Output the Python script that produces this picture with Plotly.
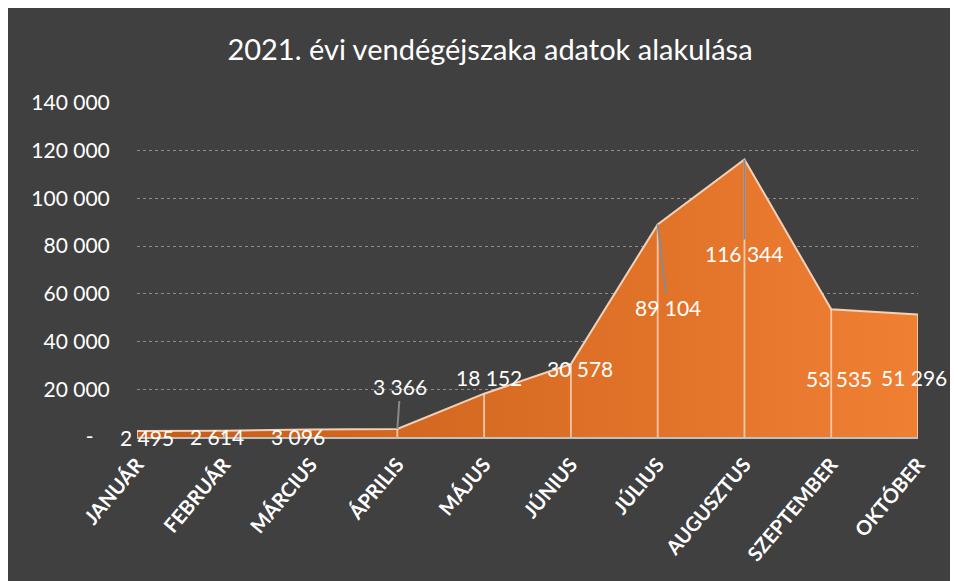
import plotly.graph_objects as go

months = ["JANUÁR", "FEBRUÁR", "MÁRCIUS", "ÁPRILIS", "MÁJUS", "JÚNIUS",
          "JÚLIUS", "AUGUSZTUS", "SZEPTEMBER", "OKTÓBER"]
values = [2495, 2614, 3096, 3366, 18152, 30578, 89104, 116344, 53535, 51296]
y_ticks = [0, 20000, 40000, 60000, 80000, 100000, 120000, 140000]

def fmt(v):
    return f"{v:,}".replace(",", " ")

y_ticktext = ["-\u00a0\u00a0\u00a0" if v == 0 else fmt(v) for v in y_ticks]

# label placement (pixel offsets from the data point); leader = draw arrow
label_pos = [
    dict(dx=10, dy=6, leader=False),
    dict(dx=-7, dy=6, leader=False),
    dict(dx=-13, dy=7, leader=False),
    dict(dx=3, dy=-42, leader=True),
    dict(dx=5, dy=-16, leader=False),
    dict(dx=9, dy=4, leader=False),
    dict(dx=10, dy=83, leader=True),
    dict(dx=0, dy=94, leader=True),
    dict(dx=8, dy=69, leader=False),
    dict(dx=-4, dy=63, leader=False),
]

xi = list(range(len(months)))

fig = go.Figure()
fig.add_trace(go.Scatter(
    x=xi, y=values, mode="lines", fill="tozeroy",
    line=dict(color="rgba(250,215,190,0.95)", width=2),
    fillgradient=dict(type="horizontal",
                      colorscale=[[0, "#C65C16"], [1, "#EF7F33"]]),
    hoverinfo="skip", showlegend=False,
))
# drop lines
fig.add_trace(go.Scatter(
    x=xi, y=values, mode="markers", marker=dict(size=0.1, opacity=0),
    error_y=dict(type="data", symmetric=False, array=[0] * len(values),
                 arrayminus=values, width=0, thickness=1.8,
                 color="rgba(252,220,200,0.8)"),
    hoverinfo="skip", showlegend=False,
))

FONT = "Lato, sans-serif"
annotations = []
for i, (v, p) in enumerate(zip(values, label_pos)):
    if p["leader"]:
        annotations.append(dict(
            x=i, y=v, xref="x", yref="y", text=fmt(v),
            showarrow=True, arrowhead=0, arrowwidth=2, arrowcolor="#8a8a8a",
            ax=p["dx"], ay=p["dy"], standoff=0,
            font=dict(family=FONT, size=21, color="white"),
        ))
    else:
        annotations.append(dict(
            x=i, y=v, xref="x", yref="y", text=fmt(v), showarrow=False,
            xshift=p["dx"], yshift=-p["dy"],
            font=dict(family=FONT, size=21, color="white"),
        ))

W, H = 950, 573
L, R, T, B = 129, 40, 95, 144

fig.update_layout(
    width=W, height=H,
    margin=dict(l=L, r=R, t=T, b=B),
    paper_bgcolor="#404040",
    plot_bgcolor="rgba(0,0,0,0)",
    title=dict(text="2021. évi vendégéjszaka adatok alakulása",
               x=(490 - 8) / W, xanchor="center",
               yref="container", y=1 - (50 - 8) / H, yanchor="middle",
               font=dict(family=FONT, size=29, color="white")),
    annotations=annotations,
    xaxis=dict(range=[0, len(months) - 1], tickvals=xi, ticktext=months,
               tickangle=-50, showgrid=False, zeroline=False,
               showline=True, linecolor="#c0c0c0", linewidth=2,
               ticks="outside", ticklen=6, tickcolor="rgba(0,0,0,0)",
               tickfont=dict(family=FONT, size=20,
                             color="white", weight="bold")),
    yaxis=dict(range=[0, 140000], tickvals=y_ticks, ticktext=y_ticktext,
               showgrid=True, gridcolor="#8c8c8c", griddash="dot", gridwidth=1,
               zeroline=False, showline=False,
               ticks="outside", ticklen=22, tickcolor="rgba(0,0,0,0)",
               tickfont=dict(family=FONT, size=21, color="white")),
)

fig.write_html("out.html")
